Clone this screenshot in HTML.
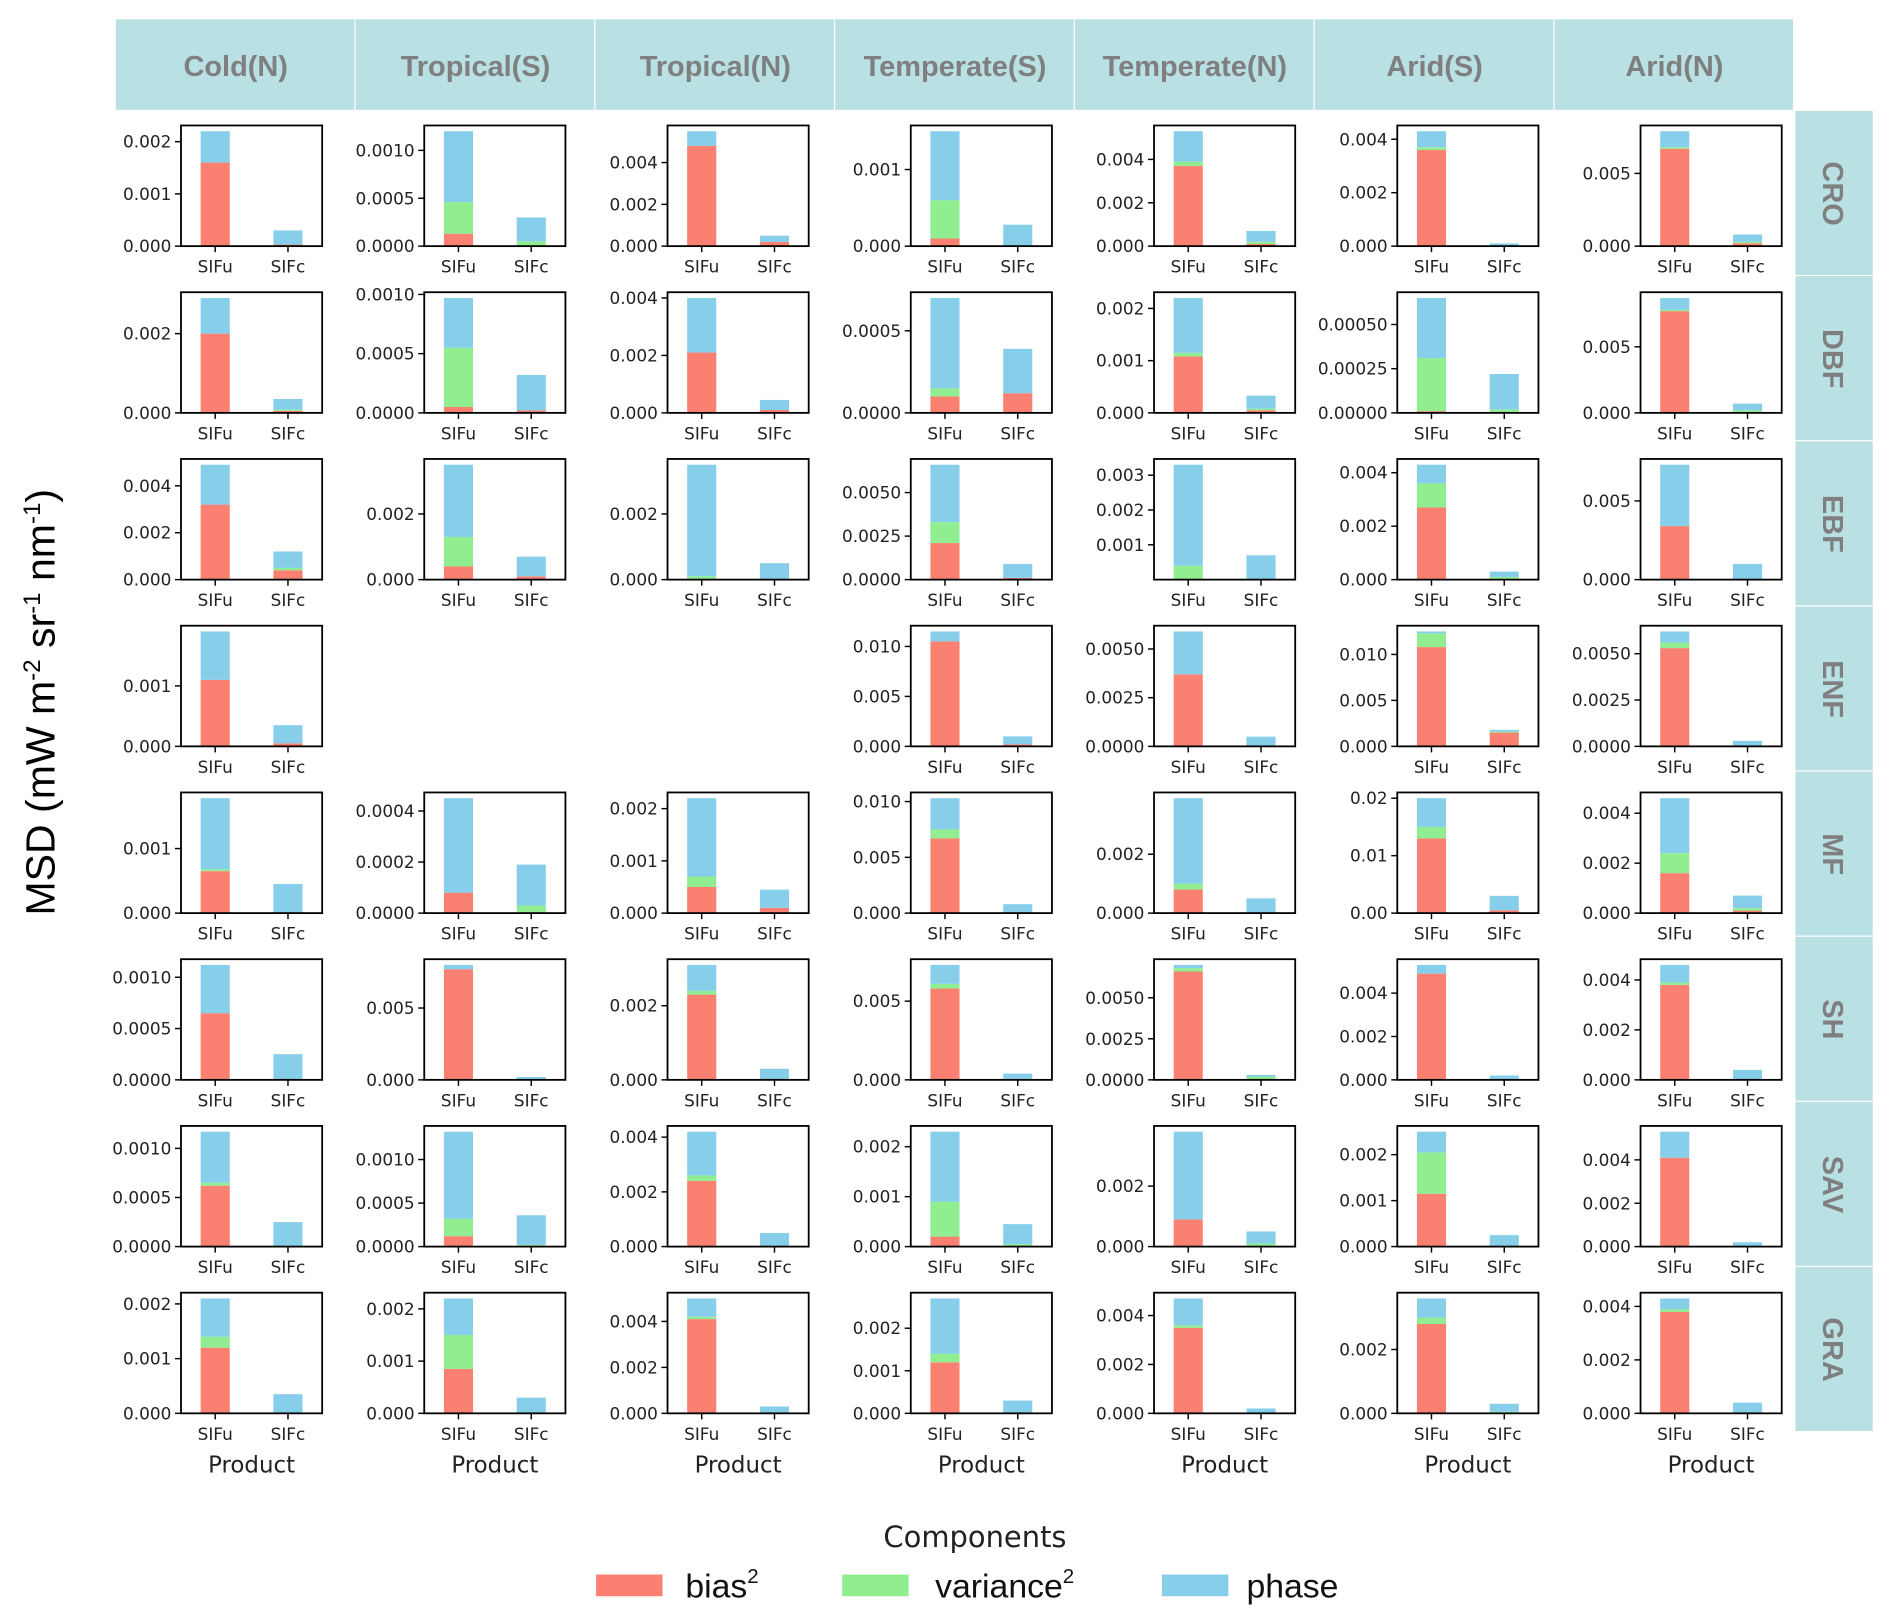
<!DOCTYPE html>
<html><head><meta charset="utf-8"><style>
html,body{margin:0;padding:0;background:#fff;}
svg{display:block;}
</style></head><body>
<svg id="chart" xmlns="http://www.w3.org/2000/svg" width="1892" height="1624" viewBox="0 0 1568 1346" preserveAspectRatio="none">
<rect x="0" y="0" width="1568" height="1346" fill="#fff"/>
<g id="header"></g>
<g id="strip"></g>
<g id="panels"></g>
<text x="0" y="0" transform="translate(45,582) rotate(-90)" text-anchor="middle" font-family="Liberation Sans, sans-serif" font-size="34" fill="#000">MSD (mW m<tspan font-size="20" dy="-12">-2</tspan><tspan dy="12"> sr</tspan><tspan font-size="20" dy="-12">-1</tspan><tspan dy="12"> nm</tspan><tspan font-size="20" dy="-12">-1</tspan><tspan dy="12">)</tspan></text>
<g>
<text x="808" y="1282" text-anchor="middle" font-family="DejaVu Sans, sans-serif" font-size="24" fill="#222">Components</text>
<rect x="494" y="1305" width="55" height="18" fill="#fa8072"/>
<text x="568" y="1324" font-family="Liberation Sans, sans-serif" font-size="28" fill="#111">bias<tspan font-size="17" dy="-12">2</tspan></text>
<rect x="698" y="1305" width="55" height="18" fill="#90ee90"/>
<text x="775" y="1324" font-family="Liberation Sans, sans-serif" font-size="28" fill="#111">variance<tspan font-size="17" dy="-12">2</tspan></text>
<rect x="963" y="1305" width="55" height="18" fill="#87ceeb"/>
<text x="1033" y="1324" font-family="Liberation Sans, sans-serif" font-size="28" fill="#111">phase</text>
</g>
</svg>
<script>
const columns = ["Cold(N)","Tropical(S)","Tropical(N)","Temperate(S)","Temperate(N)","Arid(S)","Arid(N)"];
const rows = ["CRO","DBF","EBF","ENF","MF","SH","SAV","GRA"];
const products = ["SIFu","SIFc"];
// [row][col] -> [SIFu bias, var, phase, SIFc bias, var, phase]; null = no panel
const values = [
 [[.0016,0,.0006,.00003,0,.00027],[.00013,.00033,.00074,0,.00005,.00025],[.0048,0,.0007,.0002,0,.0003],[.0001,.0005,.0009,0,0,.00028],[.0037,.0002,.0014,.0001,.0001,.0005],[.0036,.0001,.0006,0,0,.0001],[.0067,.0001,.0011,.0002,.0001,.0005]],
 [[.002,0,.0009,.00005,.00003,.00027],[.00005,.0005,.00042,.00002,0,.0003],[.0021,0,.0019,.0001,0,.00035],[.0001,.00005,.00055,.00012,0,.00027],[.00108,.00007,.00105,.00005,.00003,.00025],[.00001,.0003,.00034,0,.00002,.0002],[.0077,.0001,.0009,0,.0002,.0005]],
 [[.0032,0,.0017,.0004,.0001,.0007],[.0004,.0009,.0022,.0001,0,.0006],[0,.0001,.0034,0,0,.0005],[.0021,.0012,.0033,.0001,0,.0008],[0,.0004,.0029,0,0,.0007],[.0027,.0009,.0007,0,.0001,.0002],[.0034,0,.0039,0,0,.001]],
 [[.0011,0,.0008,.00005,0,.0003],null,null,[.0105,0,.001,.0002,0,.0008],[.0037,0,.0022,0,0,.0005],[.0108,.0015,.0002,.0015,.0001,.0002],[.0053,.0003,.0006,0,0,.0003]],
 [[.00065,.00003,.0011,0,0,.00045],[.00008,0,.00037,0,.00003,.00016],[.0005,.0002,.0015,.0001,0,.00035],[.0067,.0008,.0028,0,0,.0008],[.0008,.0002,.0029,0,0,.0005],[.013,.002,.005,.0005,0,.0025],[.0016,.0008,.0022,.0001,.0001,.0005]],
 [[.00065,0,.00047,0,0,.00025],[.0077,0,.0003,0,0,.0002],[.0023,.0001,.0007,0,0,.0003],[.0058,.0003,.0012,0,0,.0004],[.0066,.0002,.0002,0,.0002,.0001],[.0049,0,.0004,0,0,.0002],[.0038,.0001,.0007,0,0,.0004]],
 [[.00062,.00003,.00052,0,0,.00025],[.00012,.0002,.001,0,.00002,.00034],[.0024,.0002,.0016,0,0,.0005],[.0002,.0007,.0014,0,.00005,.0004],[.0009,0,.0029,0,.0001,.0004],[.00115,.0009,.00045,0,0,.00025],[.0041,0,.0012,0,0,.0002]],
 [[.0012,.0002,.0007,0,0,.00035],[.00085,.00065,.0007,0,0,.0003],[.0041,.0001,.0008,0,0,.0003],[.0012,.0002,.0013,0,0,.0003],[.0035,.0001,.0011,0,0,.0002],[.0028,.0002,.0006,0,.00005,.00025],[.0038,.0001,.0004,0,0,.0004]]
];
const ticks = [
 [["0.000","0.001","0.002"],["0.0000","0.0005","0.0010"],["0.000","0.002","0.004"],["0.000","0.001"],["0.000","0.002","0.004"],["0.000","0.002","0.004"],["0.000","0.005"]],
 [["0.000","0.002"],["0.0000","0.0005","0.0010"],["0.000","0.002","0.004"],["0.0000","0.0005"],["0.000","0.001","0.002"],["0.00000","0.00025","0.00050"],["0.000","0.005"]],
 [["0.000","0.002","0.004"],["0.000","0.002"],["0.000","0.002"],["0.0000","0.0025","0.0050"],["0.001","0.002","0.003"],["0.000","0.002","0.004"],["0.000","0.005"]],
 [["0.000","0.001"],null,null,["0.000","0.005","0.010"],["0.0000","0.0025","0.0050"],["0.000","0.005","0.010"],["0.0000","0.0025","0.0050"]],
 [["0.000","0.001"],["0.0000","0.0002","0.0004"],["0.000","0.001","0.002"],["0.000","0.005","0.010"],["0.000","0.002"],["0.00","0.01","0.02"],["0.000","0.002","0.004"]],
 [["0.0000","0.0005","0.0010"],["0.000","0.005"],["0.000","0.002"],["0.000","0.005"],["0.0000","0.0025","0.0050"],["0.000","0.002","0.004"],["0.000","0.002","0.004"]],
 [["0.0000","0.0005","0.0010"],["0.0000","0.0005","0.0010"],["0.000","0.002","0.004"],["0.000","0.001","0.002"],["0.000","0.002"],["0.000","0.001","0.002"],["0.000","0.002","0.004"]],
 [["0.000","0.001","0.002"],["0.000","0.001","0.002"],["0.000","0.002","0.004"],["0.000","0.001","0.002"],["0.000","0.002","0.004"],["0.000","0.002"],["0.000","0.002","0.004"]]
];
const componentNames = ["bias","variance","phase"];
const colors = ["#fa8072","#90ee90","#87ceeb"];
const NS = "http://www.w3.org/2000/svg";
function mk(tag, attrs, parent){const e=document.createElementNS(NS,tag);for(const k in attrs)e.setAttribute(k,attrs[k]);parent.appendChild(e);return e;}

const header=document.getElementById('header');
const H0=96,HW=(1487-96)/7;
columns.forEach((c,i)=>{
  const r=mk('rect',{x:H0+i*HW,y:16,width:HW-1,height:75,fill:'#b9e0e3'},header);
  
  
  const t=mk('text',{x:H0+i*HW+HW/2,y:63,'text-anchor':'middle','font-family':'Liberation Sans, sans-serif','font-size':24,'font-weight':'bold',fill:'#7f7f7f'},header);
  t.textContent=c;
  
  
});
const strip=document.getElementById('strip');
const S0=92,SH=(1187-92)/8;
rows.forEach((rname,i)=>{
  const r=mk('rect',{x:1488,y:S0+i*SH,width:64,height:SH-1,fill:'#b9e0e3'},strip);
  
  
  const cy=S0+i*SH+SH/2;
  const t=mk('text',{x:0,y:0,transform:`translate(1511,${cy}) rotate(90)`,'text-anchor':'middle','font-family':'Liberation Sans, sans-serif','font-size':24,'font-weight':'bold',fill:'#7f7f7f'},strip);
  t.textContent=rname;
  
  
});

const panels=document.getElementById('panels');
const PW=117,PH=100;
rows.forEach((rname,ri)=>{
  columns.forEach((cname,ci)=>{
    const v=values[ri][ci];
    if(!v) return;
    const left=150+ci*201.6, top=104+ri*138.2, bottom=top+PH;
    const g=mk('g',{},panels);
    
    
    const totals=[v[0]+v[1]+v[2],v[3]+v[4]+v[5]];
    const ymax=Math.max(totals[0],totals[1])*1.05;
    const y=val=>bottom-val/ymax*PH;
    const x=xv=>left+(xv+0.47)/1.94*PW;
    const bw=0.4/1.94*PW;
    products.forEach((p,pi)=>{
      let acc=0;
      for(let k=0;k<3;k++){
        const val=v[pi*3+k];
        const b=mk('rect',{x:x(pi)-bw/2,y:y(acc+val),width:bw,height:Math.max(0,y(acc)-y(acc+val)),fill:colors[k]},g);
        
        
        acc+=val;
      }
      mk('line',{x1:x(pi),x2:x(pi),y1:bottom,y2:bottom+5,stroke:'#000','stroke-width':1.2},g);
      const tl=mk('text',{x:x(pi),y:bottom+22,'text-anchor':'middle','font-family':'DejaVu Sans, sans-serif','font-size':14,fill:'#222'},g);
      tl.textContent=p;
      
      
    });
    const frame=mk('rect',{x:left,y:top,width:PW,height:PH,fill:'none',stroke:'#000','stroke-width':1.5},g);
    
    
    ticks[ri][ci].forEach(lab=>{
      const ty=y(parseFloat(lab));
      mk('line',{x1:left-5,x2:left,y1:ty,y2:ty,stroke:'#000','stroke-width':1.2},g);
      const t=mk('text',{x:left-8,y:ty+5,'text-anchor':'end','font-family':'DejaVu Sans, sans-serif','font-size':14,fill:'#222'},g);
      t.textContent=lab;
      
      
    });
    if(ri===rows.length-1){
      const xl=mk('text',{x:left+PW/2,y:bottom+49,'text-anchor':'middle','font-family':'DejaVu Sans, sans-serif','font-size':19,fill:'#222'},g);
      xl.textContent='Product';
      
      
    }
  });
});
</script>
</body></html>
